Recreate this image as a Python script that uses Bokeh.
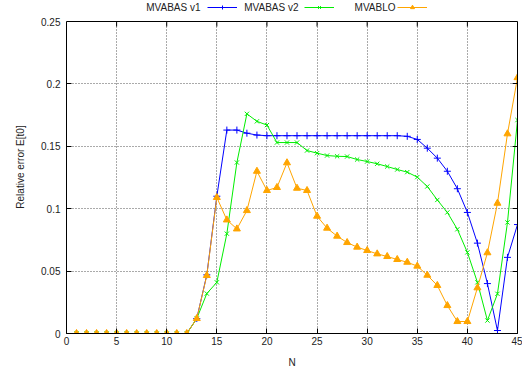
from bokeh.plotting import figure
from bokeh.models import (Range1d, FixedTicker, PrintfTickFormatter, LinearAxis,
                          Legend, LegendItem, Label, Span, BoxAnnotation)
from bokeh.core.properties import value
from bokeh.embed import file_html
from bokeh.resources import INLINE

# ---- data ----
N = [1, 2, 3, 4, 5, 6, 7, 8, 9, 10, 11, 12, 13, 14, 15, 16, 17, 18, 19, 20,
     21, 22, 23, 24, 25, 26, 27, 28, 29, 30, 31, 32, 33, 34, 35, 36, 37, 38, 39, 40,
     41, 42, 43, 44, 45]

mvabas_v1 = [0, 0, 0, 0, 0, 0, 0, 0, 0, 0, 0, 0,
             0.012, 0.047, 0.110, 0.163, 0.163, 0.1605, 0.159,
             0.1585, 0.1585, 0.1585, 0.1585, 0.1585, 0.1585, 0.1585, 0.1585, 0.1585,
             0.1585, 0.1585, 0.1585, 0.1585, 0.1585,
             0.158, 0.1555, 0.1485, 0.1405, 0.130, 0.116, 0.097, 0.0724, 0.040,
             0.0024, 0.061, 0.0873]

mvabas_v2 = [0, 0, 0, 0, 0, 0, 0, 0, 0, 0, 0, 0,
             0.012, 0.032, 0.041, 0.080, 0.137, 0.176, 0.170, 0.167, 0.153, 0.153,
             0.153, 0.1466, 0.1445, 0.1426, 0.142, 0.1418, 0.1394, 0.1378, 0.136,
             0.1338, 0.1314, 0.1293, 0.1253, 0.1178, 0.107, 0.097, 0.0835, 0.065,
             0.041, 0.0104, 0.0318, 0.089, 0.171]

mvablo = [0, 0, 0, 0, 0, 0, 0, 0, 0, 0, 0, 0,
          0.012, 0.0465, 0.109, 0.091, 0.0838, 0.0985, 0.130, 0.1146, 0.117, 0.1368,
          0.1164, 0.1146, 0.094, 0.0844, 0.078, 0.0729, 0.0692, 0.0665, 0.0638,
          0.0617, 0.0593, 0.0571, 0.054, 0.0467, 0.0385, 0.0224, 0.0096, 0.0096,
          0.0366, 0.0647, 0.1044, 0.160, 0.205]

x_ticks = [0, 5, 10, 15, 20, 25, 30, 35, 40, 45]
y_ticks = [0, 0.05, 0.1, 0.15, 0.2, 0.25]

series_names = ["MVABAS v1", "MVABAS v2", "MVABLO"]
series_colors = ["#0000ff", "#00ee00", "#ffa500"]

FONT = "Liberation Sans"
TXT = "#222222"

# layout (pixels)
FRAME_H = 333          # frame runs from canvas top to the x axis
PLOT_H = 312           # height of the 0..0.25 box
Y_MAX = y_ticks[-1]
y_top = Y_MAX * FRAME_H / PLOT_H   # extra strip above the box holds the legend

p = figure(frame_width=451, frame_height=FRAME_H,
           x_range=Range1d(x_ticks[0], x_ticks[-1]), y_range=Range1d(0, y_top),
           output_backend="svg", toolbar_location=None,
           min_border_left=66, min_border_right=5,
           min_border_top=0, min_border_bottom=35)
p.outline_line_color = None
p.background_fill_color = "white"
p.border_fill_color = "white"

xt = FixedTicker(ticks=x_ticks)
yt = FixedTicker(ticks=y_ticks)

for ax in (p.xaxis[0], p.yaxis[0]):
    ax.major_tick_in = 5
    ax.major_tick_out = 0
    ax.minor_tick_line_color = None
    ax.axis_line_color = "black"
    ax.major_tick_line_color = "black"
    ax.major_label_text_font = FONT
    ax.major_label_text_font_size = "10px"
    ax.major_label_text_color = TXT
    ax.axis_label_text_font = FONT
    ax.axis_label_text_font_size = "10px"
    ax.axis_label_text_font_style = "normal"
    ax.axis_label_text_color = TXT

p.xaxis[0].ticker = xt
p.yaxis[0].ticker = yt
p.yaxis[0].bounds = (0, Y_MAX)
p.yaxis[0].formatter = PrintfTickFormatter(format="%g")
p.xaxis[0].axis_label = "N"
p.yaxis[0].axis_label = "Relative error E[t0]"
p.xaxis[0].major_label_standoff = 3
p.xaxis[0].axis_label_standoff = 9
p.yaxis[0].major_label_standoff = 6
p.yaxis[0].axis_label_standoff = 12

# mirrored ticks on the right
rax = LinearAxis(ticker=yt, bounds=(0, Y_MAX), major_tick_in=5, major_tick_out=0,
                 minor_tick_line_color=None, major_label_text_font_size="1px",
                 major_label_text_color=None, major_label_standoff=0,
                 axis_line_color="black")
p.add_layout(rax, "right")

p.xgrid.ticker = xt
p.ygrid.ticker = yt
for g in (p.xgrid[0], p.ygrid[0]):
    g.grid_line_color = "#555555"
    g.grid_line_dash = "1 2"
    g.grid_line_width = 1

r1 = p.line(N, mvabas_v1, line_color=series_colors[0], line_width=1)
m1 = p.scatter(N, mvabas_v1, marker="cross", size=7, line_color=series_colors[0], line_width=1)
r2 = p.line(N, mvabas_v2, line_color=series_colors[1], line_width=1)
m2 = p.scatter(N, mvabas_v2, marker="x", size=6, line_color=series_colors[1], line_width=1)
r3 = p.line(N, mvablo, line_color=series_colors[2], line_width=1)
m3 = p.scatter(N, mvablo, marker="triangle", size=7, line_color=series_colors[2],
               fill_color=series_colors[2], line_width=1)

# white strip above the 0..0.25 box (hides grid there), then the box's top edge
p.add_layout(BoxAnnotation(bottom=Y_MAX, fill_color="white", fill_alpha=1.0,
                           line_alpha=0, level="annotation"))
p.add_layout(Span(location=Y_MAX, dimension="width", line_color="black", line_width=1))

# mirrored ticks on the top edge
top_ticks = x_ticks[1:-1]
tick_len = Y_MAX * 5 / PLOT_H
p.segment(x0=top_ticks, y0=[Y_MAX] * len(top_ticks), x1=top_ticks,
          y1=[Y_MAX - tick_len] * len(top_ticks), line_color="black", line_width=1)

# legend: text on the left, sample on the right (gnuplot style)
label_right = [134, 232, 329]     # px from frame left
glyph_center = [156, 253, 346]
leg_y = FRAME_H - 7               # px from frame bottom
for name, rr, lx, gx in zip(series_names, [[r1, m1], [r2, m2], [r3, m3]], label_right, glyph_center):
    p.add_layout(Label(x=lx, y=leg_y, x_units="screen", y_units="screen", text=name,
                       text_align="right", text_baseline="middle",
                       text_font=FONT, text_font_size="10px", text_color=TXT))
    leg = Legend(items=[LegendItem(label=value(" "), renderers=rr)],
                 location=(gx - 15, leg_y - 5), orientation="horizontal",
                 glyph_width=30, glyph_height=10, label_width=0, label_height=10,
                 label_standoff=0, padding=0, margin=0, spacing=0,
                 label_text_font_size="1px", label_text_color=None,
                 border_line_alpha=0, background_fill_alpha=0)
    p.add_layout(leg, "center")

open("out.html", "w").write(file_html(p, INLINE))
